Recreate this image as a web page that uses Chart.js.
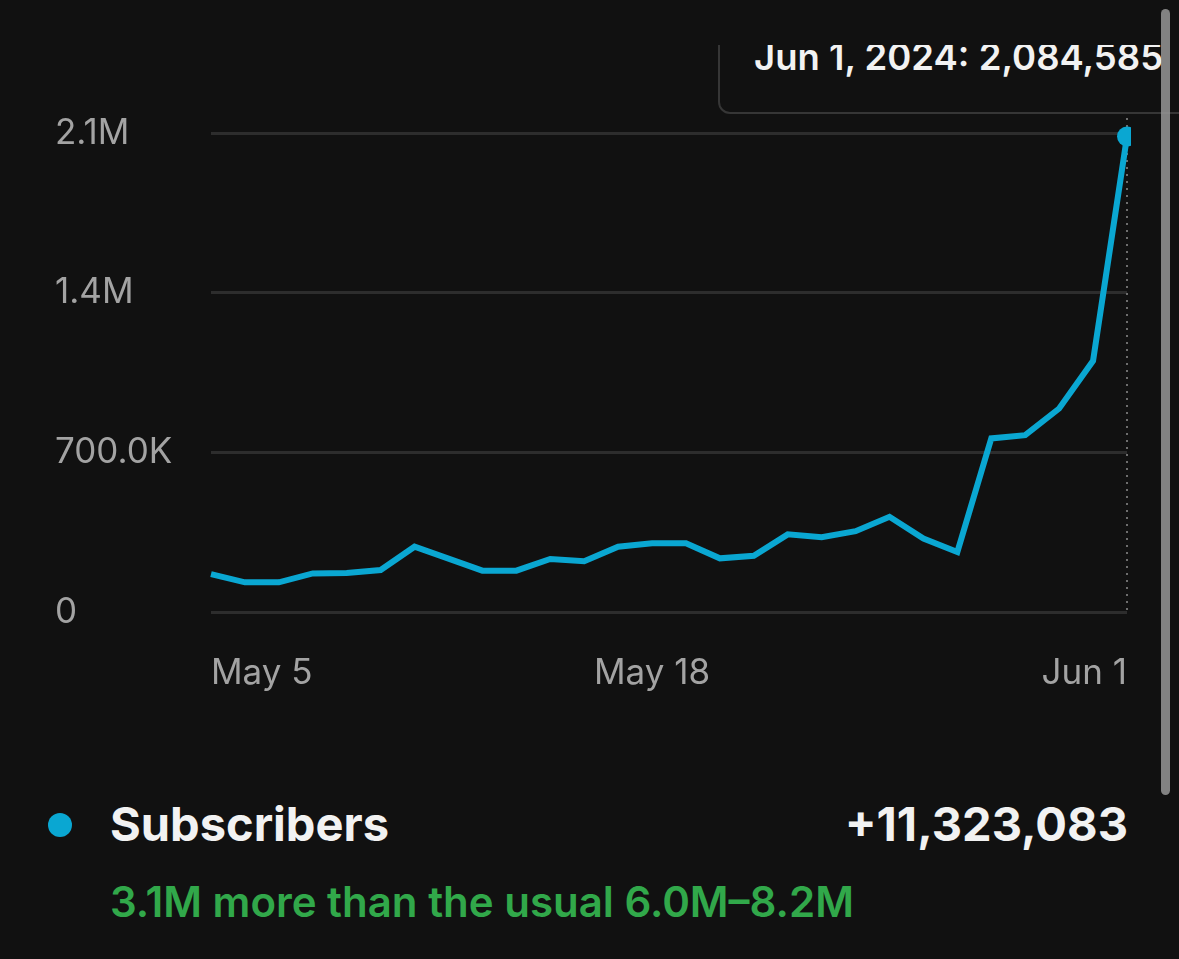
<!DOCTYPE html>
<html>
<head>
<meta charset="utf-8">
<script src="https://cdn.jsdelivr.net/npm/chart.js@4"></script>
<style>
  html, body { margin: 0; padding: 0; background: #111111; }
  body { width: 1179px; height: 959px; position: relative; overflow: hidden; font-family: Inter, "Noto Sans", sans-serif; }
  #wrap { position: absolute; left: 0; top: 100px; width: 1166px; height: 620px; }
  #tipClip { position: absolute; left: 0; top: 45px; width: 1179px; height: 80px; overflow: hidden; }
  #tip { position: absolute; left: 718px; top: -60px; width: 520px; height: 129px; border: 2px solid #363636; border-radius: 12px; box-sizing: border-box; }
  #tipText { position: absolute; left: 754px; top: -10px; color: #f2f2f2; font-size: 36.5px; font-weight: 600; white-space: nowrap; }
  #scroll { position: absolute; left: 1161px; top: 9px; width: 9px; height: 786px; border-radius: 5px; background: rgba(150,150,150,0.85); }
  #dot { position: absolute; left: 48px; top: 813px; width: 24px; height: 24px; border-radius: 50%; background: #0aa7d2; }
  #name { position: absolute; left: 110px; top: 795px; color: #f2f2f2; font-size: 47px; font-weight: 700; }
  #total { position: absolute; right: 51px; top: 795px; color: #f2f2f2; font-size: 47px; font-weight: 700; }
  #note { position: absolute; left: 110px; top: 876px; color: #31a84a; font-size: 42px; font-weight: 600; white-space: nowrap; }
</style>
</head>
<body>
<div id="tipClip">
  <div id="tip"></div>
  <div id="tipText">Jun 1, 2024: 2,084,585</div>
</div>
<div id="wrap"><canvas id="chart"></canvas></div>
<div id="scroll"></div>
<div id="dot"></div>
<div id="name">Subscribers</div>
<div id="total">+11,323,083</div>
<div id="note">3.1M more than the usual 6.0M–8.2M</div>
<script>
const dias = ['May 5','May 6','May 7','May 8','May 9','May 10','May 11','May 12','May 13','May 14',
  'May 15','May 16','May 17','May 18','May 19','May 20','May 21','May 22','May 23','May 24',
  'May 25','May 26','May 27','May 28','May 29','May 30','May 31','Jun 1'];
const inscritos = [169000, 133000, 133000, 172000, 174000, 187000, 289000, 237000, 184000, 184000,
  235000, 225000, 289000, 304000, 304000, 238000, 249000, 343000, 330000, 357000,
  420000, 325000, 266000, 763000, 777000, 894000, 1103000, 2084585];
const xTickLabels = ['May 5', 'May 18', 'Jun 1'];
const yTicks = [0, 700000, 1400000, 2100000];
const yTickLabels = ['0', '700.0K', '1.4M', '2.1M'];

const azul = '#0aa7d2';
const ultimo = inscritos.length - 1;

// linha pontilhada vertical no último ponto
const linhaVertical = {
  id: 'linhaVertical',
  beforeDatasetsDraw(chart) {
    const x = chart.scales.x.getPixelForValue(ultimo);
    const area = chart.chartArea;
    const c = chart.ctx;
    c.save();
    c.strokeStyle = '#6e6e6e';
    c.lineWidth = 2;
    c.setLineDash([2, 5]);
    c.beginPath();
    c.moveTo(x, area.top - 15);
    c.lineTo(x, area.bottom);
    c.stroke();
    c.restore();
  }
};

Chart.defaults.font.family = 'Inter, "Noto Sans", sans-serif';

new Chart(document.getElementById('chart'), {
  type: 'line',
  data: {
    labels: dias,
    datasets: [{
      label: 'Subscribers',
      data: inscritos,
      borderColor: azul,
      backgroundColor: azul,
      borderWidth: 6,
      borderJoinStyle: 'miter',
      tension: 0,
      pointRadius: ctx => ctx.dataIndex === ultimo ? 10 : 0,
      pointBorderWidth: 0,
      clip: { left: false, top: false, right: 4, bottom: false }
    }]
  },
  options: {
    responsive: true,
    maintainAspectRatio: false,
    animation: false,
    events: [],
    layout: { padding: { left: 55, right: 39, top: 33, bottom: 0 } },
    plugins: { legend: { display: false }, tooltip: { enabled: false } },
    scales: {
      x: {
        grid: { display: false },
        border: { display: false },
        afterFit: s => { s.height = 107.3; },
        ticks: {
          autoSkip: false,
          maxRotation: 0,
          align: 'inner',
          padding: 32,
          color: '#a3a3a3',
          font: { size: 35 },
          callback: function (v) {
            const l = this.getLabelForValue(v);
            return xTickLabels.includes(l) ? l : '';
          }
        }
      },
      y: {
        min: 0,
        max: 2100000,
        afterFit: s => { s.width = 156; },
        afterBuildTicks: s => { s.ticks = yTicks.map(v => ({ value: v })); },
        grid: { color: '#2d2d2d', lineWidth: 3, drawTicks: false },
        border: { display: false },
        ticks: {
          crossAlign: 'far',
          color: '#a3a3a3',
          font: { size: 35 },
          callback: v => yTickLabels[yTicks.indexOf(v)]
        }
      }
    }
  },
  plugins: [linhaVertical]
});
</script>
</body>
</html>
